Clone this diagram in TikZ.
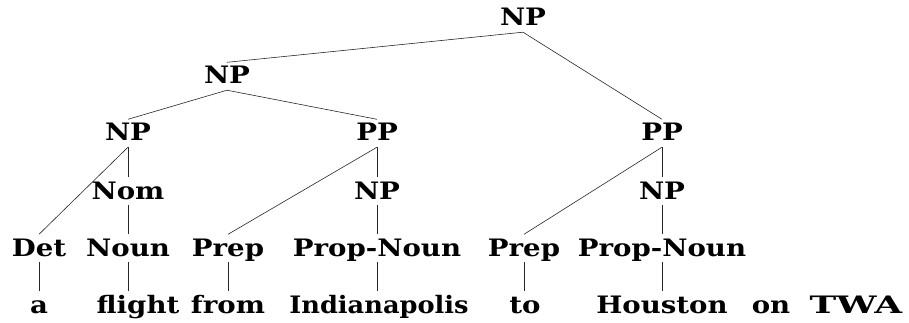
\documentclass[tikz,border=0pt]{standalone}
\usepackage{fontspec}
\newfontfamily\treefont{DejaVu Serif}[FakeStretch=1.15]
\begin{document}
\begin{tikzpicture}[x=1pt,y=-1pt,
  lab/.style={font=\treefont\bfseries\fontsize{24}{26}\selectfont, anchor=base,
    inner xsep=0pt, inner ysep=4.5pt, text height=17pt, text depth=1.5pt},
  edge/.style={draw=black!85, line width=0.6pt}]
\useasboundingbox (0,0) rectangle (909,323);
% level 0-1
\node[lab] (np0) at (523,26) {NP};
\node[lab] (np1) at (227,84) {NP};
% level 2
\node[lab] (np2) at (128,141) {NP};
\node[lab] (pp1) at (377,141) {PP};
\node[lab] (pp2) at (662,141) {PP};
% level 3
\node[lab] (nom) at (128,199) {Nom};
\node[lab] (npm) at (377,199) {NP};
\node[lab] (npr) at (662,199) {NP};
% preterminals
\node[lab] (det) at (39,256) {Det};
\node[lab] (noun) at (128,256) {Noun};
\node[lab] (prep1) at (228,256) {Prep};
\node[lab] (pn1) at (377,256) {Prop-Noun};
\node[lab] (prep2) at (524,256) {Prep};
\node[lab] (pn2) at (662,256) {Prop-Noun};
% words
\node[lab] (w1) at (39,313) {a};
\node[lab] (w2) at (138,313) {flight};
\node[lab] (w3) at (228,313) {from};
\node[lab] (w4) at (379,313) {\scalebox{0.93}[1]{Indianapolis}};
\node[lab] (w5) at (525,313) {to};
\node[lab] (w6) at (662,313) {Houston};
\node[lab] (w7) at (771,313) {on};
\node[lab] (w8) at (856,313) {\scalebox{1.3}[1]{TWA}};
% edges
\draw[edge] (np0.south) -- (np1.north);
\draw[edge] (np0.south) -- (pp2.north);
\draw[edge] (np1.south) -- (np2.north);
\draw[edge] (np1.south) -- (pp1.north);
\draw[edge] (np2.south) -- (det.north);
\draw[edge] (np2.south) -- (nom.north);
\draw[edge] (nom.south) -- (noun.north);
\draw[edge] (pp1.south) -- (prep1.north);
\draw[edge] (pp1.south) -- (npm.north);
\draw[edge] (npm.south) -- (pn1.north);
\draw[edge] (pp2.south) -- (prep2.north);
\draw[edge] (pp2.south) -- (npr.north);
\draw[edge] (npr.south) -- (pn2.north);
\draw[edge] (det.south) -- (det.south |- w1.north);
\draw[edge] (noun.south) -- (noun.south |- w2.north);
\draw[edge] (prep1.south) -- (prep1.south |- w3.north);
\draw[edge] (pn1.south) -- (pn1.south |- w4.north);
\draw[edge] (prep2.south) -- (prep2.south |- w5.north);
\draw[edge] (pn2.south) -- (pn2.south |- w6.north);
\end{tikzpicture}
\end{document}
